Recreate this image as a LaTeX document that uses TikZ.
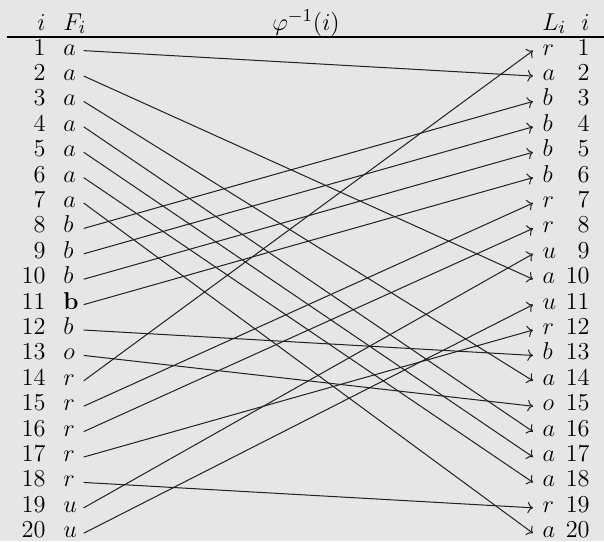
\documentclass[tikz,border=0pt]{standalone}
\usetikzlibrary{arrows.meta, calc}
\definecolor{panelgray}{HTML}{E6E6E6}
\definecolor{linkdark}{HTML}{222222}

\begin{document}
\begin{tikzpicture}[x=0.4927pt, y=-0.4927pt, >=To,
    font=\fontsize{12.3pt}{15pt}\selectfont,
    rowno/.style={anchor=base east, inner sep=0pt},
    fletter/.style={anchor=base west, inner sep=0pt, text width=9.8pt, align=left},
    lletter/.style={anchor=base west, inner ysep=0pt, inner xsep=4.5pt, text width=8pt, align=left},
    link/.style={->, linkdark, line width=0.5pt}]
  \fill[panelgray] (0,0) rectangle (604,541);
  \useasboundingbox (0,0) rectangle (604,541);
  % header
  \node[rowno] (hil) at (46,30) {$i$};
  \node[anchor=base west, inner sep=0pt] (hf) at (63,30) {$F_i$};
  \node[anchor=base, inner sep=0pt] (hphi) at (306,30) {$\varphi^{-1}(i)$};
  \node[anchor=base west, inner sep=0pt] (hl) at (542,30) {$L_i$};
  \node[rowno] (hir) at (590,30) {$i$};
  \draw[line width=0.8pt] (7,37) coordinate (rulea) -- (604,37) coordinate (ruleb);
  % first column
  \foreach \f [count=\i] in {a,a,a,a,a,a,a,b,b,b,{\mathbf{b}},b,o,r,r,r,r,r,u,u} {
    \node[rowno] (nl\i) at (46,{55+(\i-1)*25.4}) {$\i$};
    \node[fletter] (F\i) at (63,{55+(\i-1)*25.4}) {$\f$};
  }
  % last column
  \foreach \l [count=\i] in {r,a,b,b,b,b,r,r,u,a,u,r,b,a,o,a,a,a,r,a} {
    \node[lletter] (L\i) at (533,{55+(\i-1)*25.4}) {$\l$};
    \node[rowno] (nr\i) at (590,{55+(\i-1)*25.4}) {$\i$};
  }
  % phi inverse
  \foreach \i/\j in {1/2, 2/10, 3/14, 4/16, 5/17, 6/18, 7/20, 8/3, 9/4, 10/5,
      11/6, 12/13, 13/15, 14/1, 15/7, 16/8, 17/12, 18/19, 19/9, 20/11}
    \draw[link] (F\i.mid east) -- (L\j.mid west);
\end{tikzpicture}
\end{document}
